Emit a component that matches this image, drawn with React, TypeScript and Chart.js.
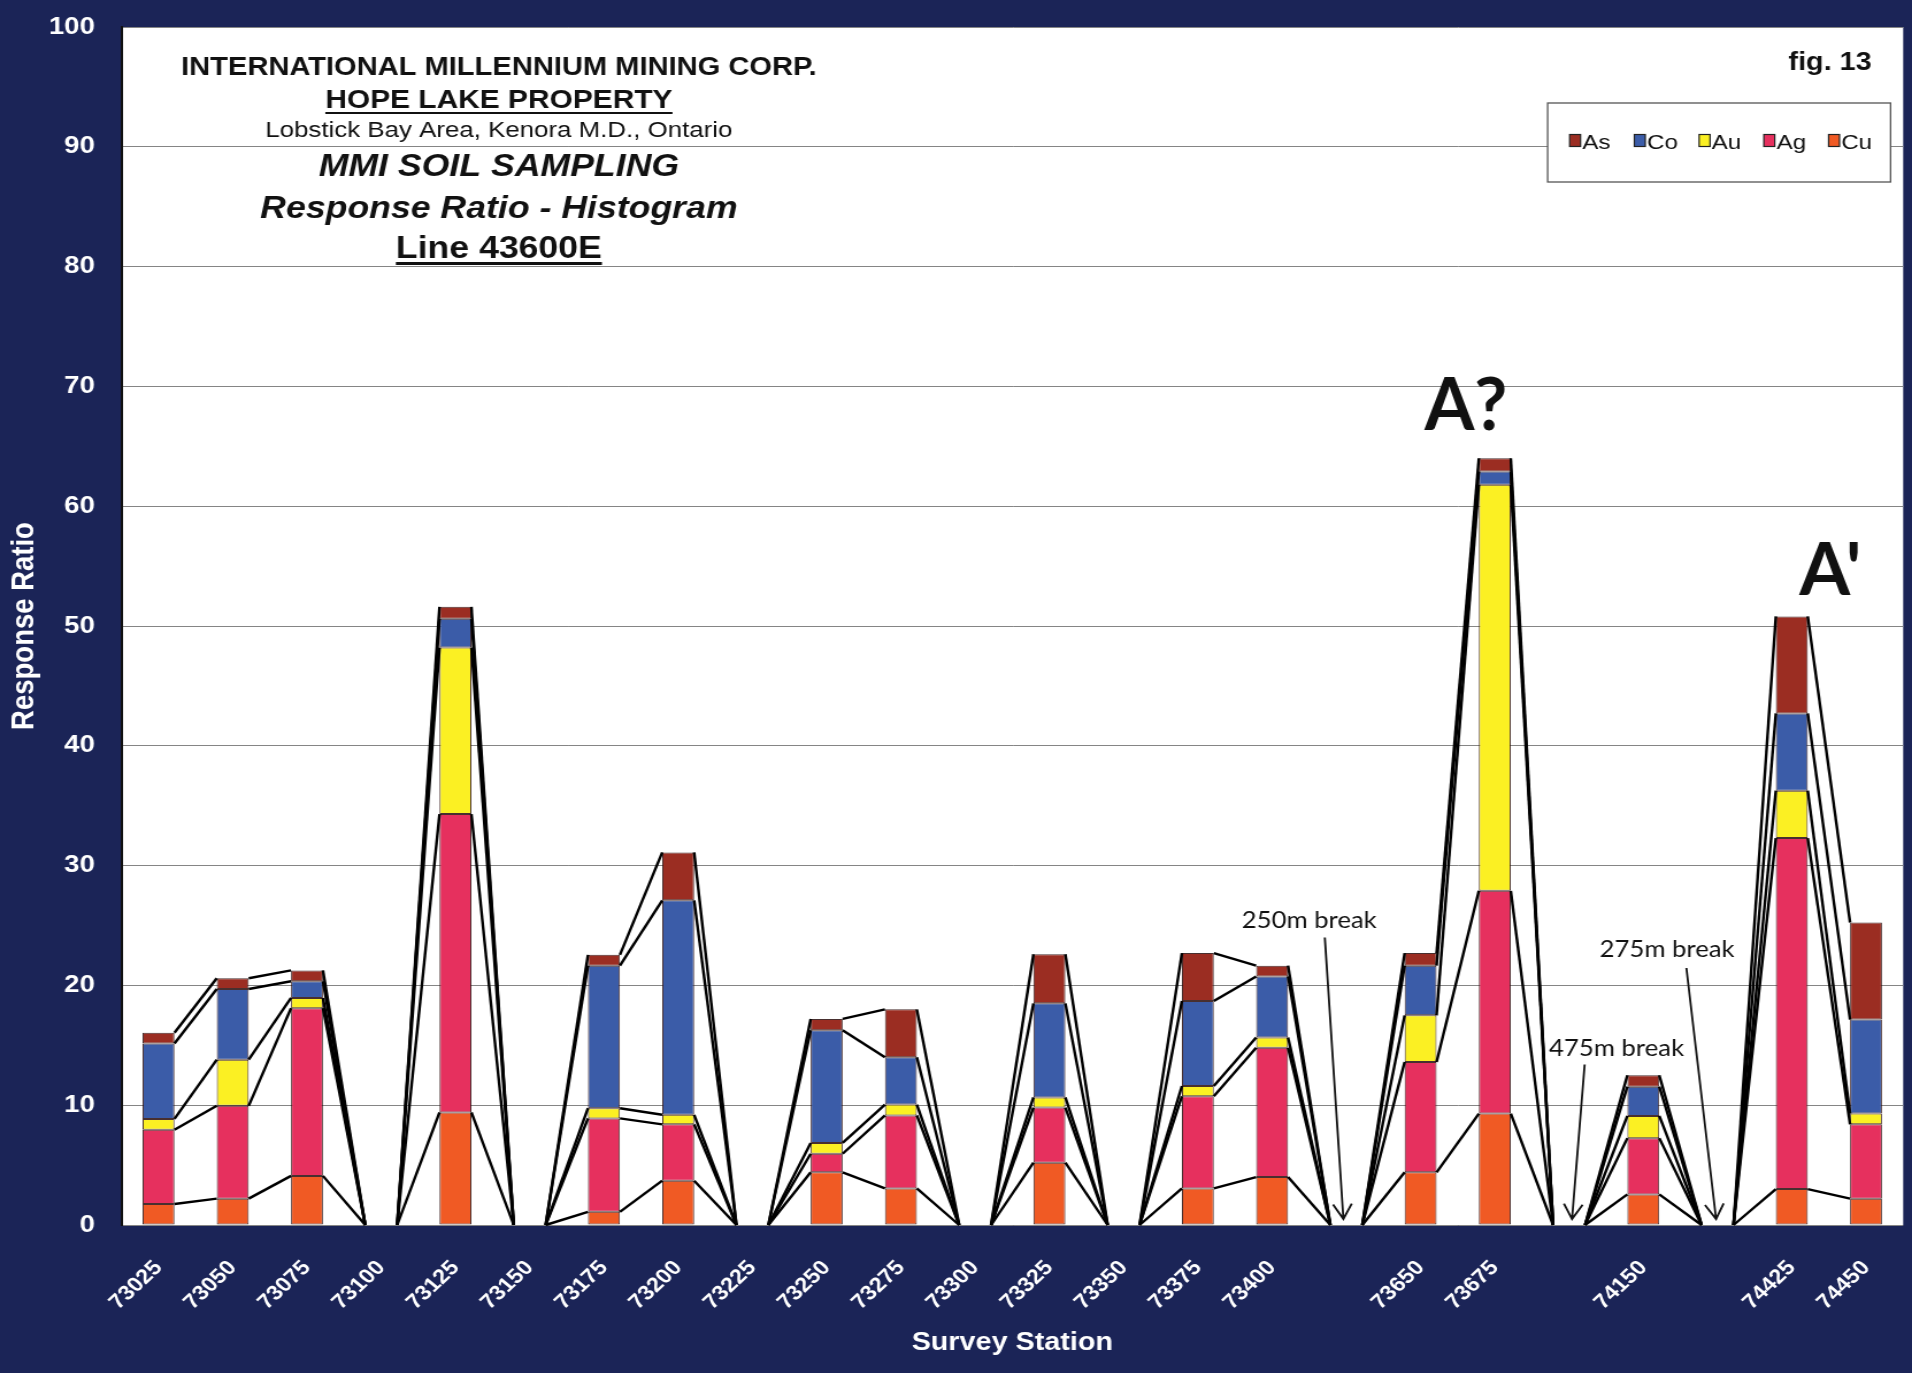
import React, { useEffect, useRef } from "react";
import { Chart, registerables } from "chart.js";

Chart.register(...registerables);

// ---------------- data ----------------
const stations = [
  "73025", "73050", "73075", "73100", "73125", "73150", "73175", "73200",
  "73225", "73250", "73275", "73300", "73325", "73350", "73375", "73400",
  "", "73650", "73675", "", "74150", "", "74425", "74450",
];

const cuValues = [1.75, 2.2, 4.1, 0, 9.4, 0, 1.1, 3.7, 0, 4.4, 3.05, 0, 5.2, 0, 3.05, 4.0, 0, 4.4, 9.3, 0, 2.55, 0, 3.0, 2.2];
const agValues = [6.2, 7.75, 14.0, 0, 24.9, 0, 7.8, 4.7, 0, 1.55, 6.1, 0, 4.6, 0, 7.7, 10.8, 0, 9.2, 18.6, 0, 4.7, 0, 29.3, 6.2];
const auValues = [0.9, 3.85, 0.85, 0, 13.9, 0, 0.85, 0.8, 0, 0.9, 0.9, 0, 0.85, 0, 0.85, 0.85, 0, 3.9, 33.9, 0, 1.85, 0, 3.95, 0.9];
const coValues = [6.3, 5.9, 1.4, 0, 2.4, 0, 11.9, 17.9, 0, 9.4, 3.95, 0, 7.85, 0, 7.1, 5.1, 0, 4.15, 1.1, 0, 2.45, 0, 6.45, 7.85];
const asValues = [0.9, 0.9, 0.9, 0, 1.0, 0, 0.9, 4.0, 0, 0.95, 4.0, 0, 4.1, 0, 4.0, 0.9, 0, 1.05, 1.1, 0, 0.95, 0, 8.1, 8.1];

const seriesNames = ["Cu", "Ag", "Au", "Co", "As"];

const titleTexts = [
  "INTERNATIONAL MILLENNIUM MINING CORP.",
  "HOPE LAKE PROPERTY",
  "Lobstick Bay Area, Kenora M.D., Ontario",
  "MMI SOIL SAMPLING",
  "Response Ratio - Histogram",
  "Line 43600E",
];
const figureLabel = "fig. 13";
const yAxisTitle = "Response Ratio";
const xAxisTitle = "Survey Station";

// annotations placed in data units (category index, response ratio)
const breakNotes = [
  { text: "250m break", x: 15.5, y: 24.8, from: [15.71, 24.0], to: [15.96, 0.5] },
  { text: "475m break", x: 19.64, y: 14.1, from: [19.21, 13.4], to: [19.04, 0.5] },
  { text: "275m break", x: 20.32, y: 22.4, from: [20.58, 21.45], to: [20.98, 0.5] },
];
const anomalyNotes = [
  { text: "A?", x: 17.61, y: 66.4 },
  { text: "A'", x: 22.52, y: 52.6 },
];

// ---------------- styling / layout ----------------
const PAGE_W = 1912;
const PAGE_H = 1373;
const SX = 1.15; // the original figure is horizontally stretched
const CANVAS_W = Math.round(PAGE_W / SX);
const NAVY = "#1b2457";
const FONT = '"Liberation Sans", Arial, Helvetica, sans-serif';
const NOTE_FONT = 'Lato, "Open Sans", sans-serif';

const COLORS: Record<string, string> = {
  Cu: "#f05a24",
  Ag: "#e6305e",
  Au: "#fbf023",
  Co: "#3b5ca8",
  As: "#9b2d22",
};

const AREA_LEFT = 121.4 / SX;
const AREA_RIGHT = 1903.6 / SX;
const AREA_TOP = 27;
const AREA_BOTTOM = 1225;

function fitText(ctx: CanvasRenderingContext2D, text: string, cx: number, baseY: number, font: string, targetW: number) {
  ctx.font = font;
  const w = ctx.measureText(text).width;
  const s = targetW / w;
  ctx.save();
  ctx.translate(cx, baseY);
  ctx.scale(s, 1);
  ctx.textAlign = "center";
  ctx.textBaseline = "alphabetic";
  ctx.fillText(text, 0, 0);
  ctx.restore();
}

const decorPlugin = {
  id: "decor",
  beforeDraw(chart: any) {
    const { ctx, chartArea: a } = chart;
    ctx.save();
    ctx.fillStyle = "#ffffff";
    ctx.fillRect(a.left, a.top, a.right - a.left, a.bottom - a.top);
    ctx.restore();
  },
  afterDatasetsDraw(chart: any) {
    // series lines joining the top of each segment between neighbouring columns
    const ctx: CanvasRenderingContext2D = chart.ctx;
    ctx.save();
    ctx.strokeStyle = "#000";
    ctx.lineWidth = 2.4;
    chart.data.datasets.forEach((_: any, d: number) => {
      const els = chart.getDatasetMeta(d).data;
      for (let i = 0; i < els.length - 1; i++) {
        const p = els[i].getProps(["x", "y", "width"], true);
        const q = els[i + 1].getProps(["x", "y", "width"], true);
        ctx.beginPath();
        ctx.moveTo(p.x + p.width / 2, p.y);
        ctx.lineTo(q.x - q.width / 2, q.y);
        ctx.stroke();
      }
    });
    ctx.restore();
  },
  afterDraw(chart: any) {
    const ctx: CanvasRenderingContext2D = chart.ctx;
    const a = chart.chartArea;
    const xs = chart.scales.x;
    const ys = chart.scales.y;
    ctx.save();
    ctx.fillStyle = "#111";
    ctx.strokeStyle = "#111";

    // title block
    const cx = a.left + (499 - 121.4) / SX;
    const dy = a.top - 27;
    const styles = [
      { font: `bold 25.3px ${FONT}`, base: 75, ul: 0 },
      { font: `bold 26px ${FONT}`, base: 108, ul: 2 },
      { font: `22.5px ${FONT}`, base: 137, ul: 0 },
      { font: `italic bold 31px ${FONT}`, base: 176, ul: 0 },
      { font: `italic bold 31px ${FONT}`, base: 218, ul: 0 },
      { font: `bold 31px ${FONT}`, base: 258, ul: 3 },
    ];
    ctx.textAlign = "center";
    ctx.textBaseline = "alphabetic";
    titleTexts.forEach((t, i) => {
      const st = styles[i];
      ctx.font = st.font;
      ctx.fillText(t, cx, st.base + dy);
      if (st.ul) {
        const w = ctx.measureText(t).width;
        ctx.fillRect(cx - w / 2, st.base + dy + 4, w, st.ul);
      }
    });

    // figure number
    ctx.font = `bold 25px ${FONT}`;
    ctx.textAlign = "right";
    ctx.fillText(figureLabel, a.right - (1903.6 - 1872) / SX, 70 + dy);

    // legend box
    const boxL = a.right - (1903.6 - 1548) / SX;
    const boxR = a.right - (1903.6 - 1891) / SX;
    const boxT = 103 + dy;
    const boxB = 182 + dy;
    ctx.fillStyle = "#ffffff";
    ctx.fillRect(boxL, boxT, boxR - boxL, boxB - boxT);
    ctx.lineWidth = 1.3;
    ctx.strokeStyle = "#555";
    ctx.strokeRect(boxL, boxT, boxR - boxL, boxB - boxT);
    const items = [...chart.data.datasets].reverse();
    let lx = a.right - (1903.6 - 1570) / SX;
    const step = 64.75 / SX;
    ctx.font = `21px ${FONT}`;
    ctx.textAlign = "left";
    items.forEach((ds: any) => {
      ctx.fillStyle = ds.backgroundColor;
      ctx.fillRect(lx, 134.5 + dy, 9.5, 12);
      ctx.lineWidth = 1.2;
      ctx.strokeStyle = "#222";
      ctx.strokeRect(lx, 134.5 + dy, 9.5, 12);
      ctx.fillStyle = "#111";
      ctx.fillText(ds.label, lx + 11, 149 + dy);
      lx += step;
    });

    // break notes with arrows
    ctx.fillStyle = "#111";
    ctx.strokeStyle = "#111";
    ctx.lineWidth = 1.8;
    breakNotes.forEach((n) => {
      fitText(ctx, n.text, xs.getPixelForValue(n.x), ys.getPixelForValue(n.y), `24px ${NOTE_FONT}`, 135 / SX);
      const x1 = xs.getPixelForValue(n.from[0]);
      const y1 = ys.getPixelForValue(n.from[1]);
      const x2 = xs.getPixelForValue(n.to[0]);
      const y2 = ys.getPixelForValue(n.to[1]);
      ctx.beginPath();
      ctx.moveTo(x1, y1);
      ctx.lineTo(x2, y2);
      const ang = Math.atan2(y2 - y1, x2 - x1);
      const hl = 17;
      const spread = 0.5;
      ctx.moveTo(x2 - hl * Math.cos(ang - spread), y2 - hl * Math.sin(ang - spread));
      ctx.lineTo(x2, y2);
      ctx.lineTo(x2 - hl * Math.cos(ang + spread), y2 - hl * Math.sin(ang + spread));
      ctx.stroke();
    });

    // anomaly labels
    anomalyNotes.forEach((n, i) => {
      fitText(ctx, n.text, xs.getPixelForValue(n.x), ys.getPixelForValue(n.y), `bold 72px ${NOTE_FONT}`, (i === 0 ? 83 : 62) / SX);
    });
    ctx.restore();
  },
};

export default function App() {
  const ref = useRef<HTMLCanvasElement | null>(null);

  useEffect(() => {
    const canvas = ref.current;
    if (!canvas) return;
    const valuesBySeries = [cuValues, agValues, auValues, coValues, asValues];
    const chart = new Chart(canvas, {
      type: "bar",
      data: {
        labels: stations,
        datasets: seriesNames.map((name, i) => ({
          label: name,
          data: valuesBySeries[i],
          backgroundColor: COLORS[name],
          borderColor: "rgba(40,10,10,0.85)",
          borderWidth: 1,
          borderSkipped: false,
          barPercentage: 0.43,
          categoryPercentage: 1,
        })),
      },
      options: {
        responsive: false,
        animation: false,
        events: [],
        layout: {
          autoPadding: false,
          padding: { left: 0, top: AREA_TOP, right: CANVAS_W - AREA_RIGHT, bottom: 0 },
        },
        plugins: {
          legend: { display: false },
          tooltip: { enabled: false },
          title: { display: false },
        },
        scales: {
          x: {
            stacked: true,
            grid: { display: false },
            border: { display: false },
            ticks: {
              autoSkip: false,
              maxRotation: 47,
              minRotation: 47,
              padding: 23,
              color: "#ffffff",
              font: { family: FONT, size: 20.5, weight: "bold" },
            },
            title: {
              display: true,
              text: xAxisTitle,
              color: "#ffffff",
              font: { family: FONT, size: 25, weight: "bold" },
              padding: { top: 0, bottom: 15 },
            },
            afterFit: (scale: any) => {
              scale.height = PAGE_H - AREA_BOTTOM;
              scale.paddingLeft = 0;
              scale.paddingRight = 0;
            },
          },
          y: {
            stacked: true,
            min: 0,
            max: 100,
            ticks: {
              stepSize: 10,
              padding: 23,
              color: "#ffffff",
              font: { family: FONT, size: 24, weight: "bold" },
            },
            grid: { color: "#858585", lineWidth: 1, drawTicks: false },
            border: { display: true, color: "#111", width: 2 },
            title: {
              display: true,
              text: yAxisTitle,
              color: "#ffffff",
              font: { family: FONT, size: 27.5, weight: "bold" },
              padding: { top: 5, bottom: 0 },
            },
            afterFit: (scale: any) => {
              scale.width = AREA_LEFT;
              scale.paddingTop = 0;
              scale.paddingBottom = 0;
            },
          },
        },
      },
      plugins: [decorPlugin],
    } as any);
    return () => chart.destroy();
  }, []);

  return (
    <div
      style={{
        position: "absolute",
        left: 0,
        top: 0,
        width: PAGE_W,
        height: PAGE_H,
        background: NAVY,
        overflow: "hidden",
      }}
    >
      <canvas
        ref={ref}
        width={CANVAS_W}
        height={PAGE_H}
        style={{ display: "block", width: `${PAGE_W}px`, height: `${PAGE_H}px` }}
      />
    </div>
  );
}
